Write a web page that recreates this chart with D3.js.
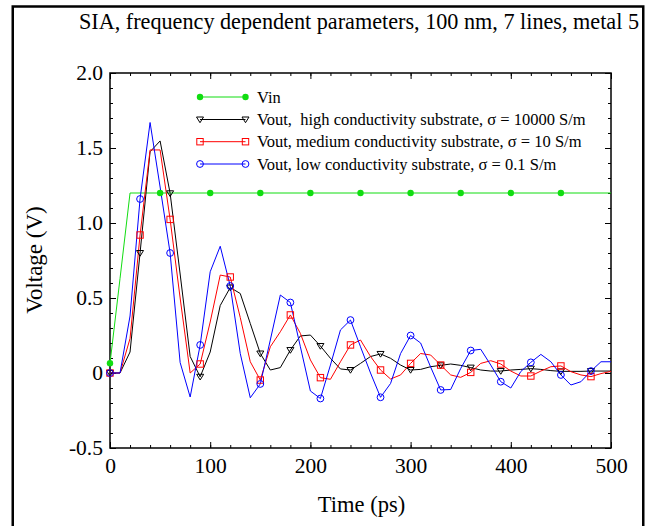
<!DOCTYPE html>
<html>
<head>
<meta charset="utf-8">
<script src="https://cdn.jsdelivr.net/npm/d3@7/dist/d3.min.js"></script>
<style>
  body { margin: 0; background: #fff; }
  text { font-family: "Liberation Serif", "Times New Roman", serif; fill: #000; }
</style>
</head>
<body>
<div id="app"></div>
<script>
// sample times (ps)
const time = [0,10,20,30,40,50,60,70,80,90,100,110,120,130,140,150,160,170,180,190,200,
  210,220,230,240,250,260,270,280,290,300,310,320,330,340,350,360,370,380,390,400,
  410,420,430,440,450,460,470,480,490,500];

const vinTime = [0,10,20,50,100,150,200,250,300,350,400,450,500];
const vinVolt = [0.065,0.63,1.2,1.2,1.2,1.2,1.2,1.2,1.2,1.2,1.2,1.2,1.2];

const vHigh = [0,0,0.14,0.80,1.475,1.547,1.198,0.66,0.11,-0.025,0.14,0.45,0.57,0.53,0.33,0.13,
  0.02,0.036,0.153,0.247,0.253,0.18,0.098,0.027,0.02,0.064,0.11,0.127,0.098,0.053,0.02,
  0.024,0.042,0.051,0.06,0.051,0.036,0.02,0.013,0.013,0.02,0.024,0.029,0.024,0.016,0.011,
  0.011,0.011,0.013,0.013,0.013];

const vMed = [0,0,0.23,0.92,1.487,1.487,1.024,0.50,0.0,0.06,0.34,0.653,0.64,0.37,0.075,-0.047,
  0.175,0.275,0.387,0.264,0.087,-0.031,-0.042,0.075,0.187,0.22,0.11,0.02,-0.04,-0.013,0.064,
  0.13,0.12,0.053,-0.013,-0.029,0.004,0.064,0.082,0.06,0.013,-0.02,-0.02,0.013,0.042,0.047,
  0.009,-0.013,-0.024,-0.004,0.011];

const vLow = [0,0,0.38,1.16,1.67,1.24,0.80,0.07,-0.16,0.187,0.675,0.845,0.58,0.13,-0.165,-0.073,
  0.22,0.52,0.47,0.175,-0.12,-0.17,0.053,0.287,0.353,0.175,0.0,-0.162,-0.07,0.13,0.25,
  0.2,0.04,-0.113,-0.11,0.03,0.15,0.158,0.053,-0.058,-0.10,0.01,0.071,0.124,0.075,-0.013,
  -0.08,-0.058,0.013,0.075,0.075];

const legendLabels = [
  "Vin",
  "Vout,  high conductivity substrate, \u03c3 = 10000 S/m",
  "Vout, medium conductivity substrate, \u03c3 = 10 S/m",
  "Vout, low conductivity substrate, \u03c3 = 0.1 S/m"
];

const xTicks = [0,100,200,300,400,500];
const yTicks = [-0.5,0,0.5,1.0,1.5,2.0];
const yTickLabels = ["-0.5","0","0.5","1.0","1.5","2.0"];

const W = 652, H = 526;
const pLeft = 110, pRight = 611, pTop = 73, pBottom = 448;

const svg = d3.select("#app").append("svg")
  .attr("width", W).attr("height", H);

// outer frame
svg.append("rect")
  .attr("x", 12.75).attr("y", 6.5)
  .attr("width", 630.5).attr("height", 540)
  .attr("fill", "none").attr("stroke", "#000").attr("stroke-width", 2.5);

svg.append("text")
  .attr("x", 639).attr("y", 29)
  .attr("text-anchor", "end")
  .style("font-size", "22.2px")
  .text("SIA, frequency dependent parameters, 100 nm, 7 lines, metal 5");

const x = d3.scaleLinear().domain([0, 500]).range([pLeft, pRight]);
const y = d3.scaleLinear().domain([-0.5, 2.0]).range([pBottom, pTop]);

const xMinor = d3.range(0, 501, 20);
const yMinor = d3.range(-5, 21, 1).map(d => d / 10);

function styleAxis(g) {
  g.select(".domain").remove();
  g.selectAll("line").attr("stroke", "#000");
  g.selectAll("text").style("font-size", "21.5px").style("font-family", "Liberation Serif, serif");
}

// minor ticks all sides
svg.append("g").attr("transform", `translate(0,${pBottom})`)
  .call(d3.axisBottom(x).tickValues(xMinor).tickSizeInner(-3).tickSizeOuter(0).tickFormat(""))
  .call(styleAxis);
svg.append("g").attr("transform", `translate(0,${pTop})`)
  .call(d3.axisTop(x).tickValues(xMinor).tickSizeInner(-3).tickSizeOuter(0).tickFormat(""))
  .call(styleAxis);
svg.append("g").attr("transform", `translate(${pLeft},0)`)
  .call(d3.axisLeft(y).tickValues(yMinor).tickSizeInner(-3).tickSizeOuter(0).tickFormat(""))
  .call(styleAxis);
svg.append("g").attr("transform", `translate(${pRight},0)`)
  .call(d3.axisRight(y).tickValues(yMinor).tickSizeInner(-3).tickSizeOuter(0).tickFormat(""))
  .call(styleAxis);

// major ticks + labels
svg.append("g").attr("transform", `translate(0,${pBottom})`)
  .call(d3.axisBottom(x).tickValues(xTicks).tickSizeInner(-6).tickSizeOuter(0).tickPadding(10).tickFormat(d3.format("d")))
  .call(styleAxis);
svg.append("g").attr("transform", `translate(0,${pTop})`)
  .call(d3.axisTop(x).tickValues(xTicks).tickSizeInner(-6).tickSizeOuter(0).tickFormat(""))
  .call(styleAxis);
svg.append("g").attr("transform", `translate(${pLeft},0)`)
  .call(d3.axisLeft(y).tickValues(yTicks).tickSizeInner(-6).tickSizeOuter(0).tickPadding(7)
    .tickFormat((d, i) => yTickLabels[i]))
  .call(styleAxis);
svg.append("g").attr("transform", `translate(${pRight},0)`)
  .call(d3.axisRight(y).tickValues(yTicks).tickSizeInner(-6).tickSizeOuter(0).tickFormat(""))
  .call(styleAxis);

// plot box
svg.append("rect")
  .attr("x", pLeft).attr("y", pTop)
  .attr("width", pRight - pLeft).attr("height", pBottom - pTop)
  .attr("fill", "none").attr("stroke", "#000").attr("stroke-width", 1.5);

svg.append("text")
  .attr("x", (pLeft + pRight) / 2 + 1).attr("y", 512)
  .attr("text-anchor", "middle")
  .style("font-size", "22.5px")
  .text("Time (ps)");

svg.append("text")
  .attr("transform", "translate(42,260) rotate(-90)")
  .attr("text-anchor", "middle")
  .style("font-size", "23px")
  .text("Voltage (V)");

// series
const green = "#11dd11";
const series = [
  { name: legendLabels[0], t: vinTime, v: vinVolt, color: green, marker: "dot", every: 50 },
  { name: legendLabels[1], t: time, v: vHigh, color: "#000", marker: "tri", every: 30 },
  { name: legendLabels[2], t: time, v: vMed, color: "#ff0000", marker: "square", every: 30 },
  { name: legendLabels[3], t: time, v: vLow, color: "#0000ff", marker: "circle", every: 30 }
];

const line = d3.line().x(d => x(d[0])).y(d => y(d[1]));
const plot = svg.append("g");

function drawMarker(g, s, px, py) {
  if (s.marker === "dot") {
    g.append("circle").attr("cx", px).attr("cy", py).attr("r", 3.2)
      .attr("fill", s.color).attr("stroke", "none");
  } else if (s.marker === "circle") {
    g.append("circle").attr("cx", px).attr("cy", py).attr("r", 3.4)
      .attr("fill", "none").attr("stroke", s.color).attr("stroke-width", 1);
  } else if (s.marker === "square") {
    g.append("rect").attr("x", px - 3.2).attr("y", py - 3.2).attr("width", 6.4).attr("height", 6.4)
      .attr("fill", "none").attr("stroke", s.color).attr("stroke-width", 1);
  } else {
    g.append("path")
      .attr("d", `M${px - 3.5},${py - 2.5}L${px + 3.5},${py - 2.5}L${px},${py + 3.2}Z`)
      .attr("fill", "none").attr("stroke", s.color).attr("stroke-width", 1);
  }
}

series.forEach(s => {
  const pts = s.t.map((t, i) => [t, s.v[i]]);
  plot.append("path").datum(pts)
    .attr("d", line)
    .attr("fill", "none").attr("stroke", s.color).attr("stroke-width", 1);
});
series.forEach(s => {
  s.t.forEach((t, i) => {
    if (t % s.every === 0 && t < 500) drawMarker(plot, s, x(t), y(s.v[i]));
  });
});

// legend
const legY = [97, 119.5, 141.7, 164];
series.forEach((s, i) => {
  const g = svg.append("g");
  g.append("line").attr("x1", 200).attr("x2", 245.5).attr("y1", legY[i]).attr("y2", legY[i])
    .attr("stroke", s.color).attr("stroke-width", 1);
  drawMarker(g, s, 200, legY[i]);
  drawMarker(g, s, 245.5, legY[i]);
  g.append("text").attr("x", 257).attr("y", legY[i] + 5.5)
    .style("font-size", "16.5px")
    .style("white-space", "pre")
    .text(s.name);
});
</script>
</body>
</html>
